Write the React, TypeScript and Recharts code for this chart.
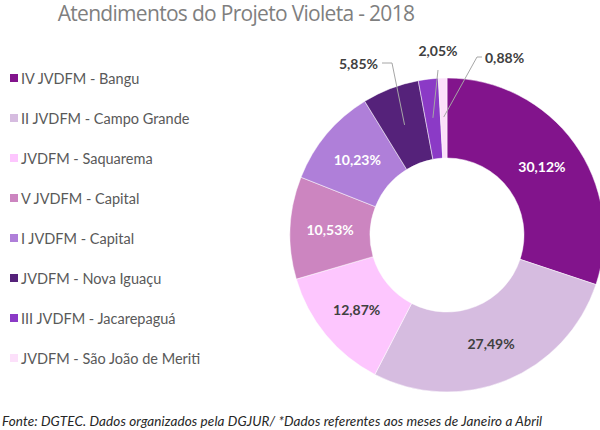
import { Pie, PieChart, Cell } from "recharts";

const UNITS = [
  "IV JVDFM - Bangu",
  "II JVDFM - Campo Grande",
  "JVDFM - Saquarema",
  "V JVDFM - Capital",
  "I JVDFM - Capital",
  "JVDFM - Nova Iguaçu",
  "III JVDFM - Jacarepaguá",
  "JVDFM - São João de Meriti",
];
const SHARES = [30.12, 27.49, 12.87, 10.53, 10.23, 5.85, 2.05, 0.88];
const COLORS = ["#82148C", "#D6BCE0", "#FDC6FE", "#CC85C0", "#AF7FD9", "#55227A", "#8B3AC6", "#FCE0FA"];
const LIGHT_TEXT = [true, false, false, true, true, false, false, false];

const TITLE = "Atendimentos do Projeto Violeta - 2018";
const SOURCE = "Fonte: DGTEC. Dados organizados pela DGJUR/ *Dados referentes aos meses de Janeiro a Abril";

const rows = UNITS.map((name, i) => ({ name, value: SHARES[i] }));

// leader-line layout for the small slices, relative to the pie centre
const CALLOUTS: Record<number, { ex: number; ey: number; hx: number; tx: number; ty: number; anchor: string }> = {
  5: { ex: -55, ey: -172, hx: -65, tx: -69, ty: -172, anchor: "end" },
  6: { ex: -9, ey: -165, hx: -9, tx: -9, ty: -185, anchor: "middle" },
  7: { ex: 30, ey: -178, hx: 35, tx: 38, ty: -178, anchor: "start" },
};

const RAD = Math.PI / 180;
const fmt = (v: number) => v.toFixed(2).replace(".", ",") + "%";

function renderLabel(props: any) {
  const { cx, cy, midAngle, innerRadius, outerRadius, index, value } = props;
  const c = CALLOUTS[index];
  if (c) {
    const ax = cx + 118 * Math.cos(-midAngle * RAD);
    const ay = cy + 118 * Math.sin(-midAngle * RAD);
    return (
      <g>
        <polyline
          points={`${ax},${ay} ${cx + c.ex},${cy + c.ey} ${cx + c.hx},${cy + c.ey}`}
          fill="none"
          stroke="#a6a6a6"
          strokeWidth={1}
        />
        <text
          x={cx + c.tx}
          y={cy + c.ty}
          textAnchor={c.anchor}
          dominantBaseline="central"
          fontFamily="Lato"
          fontWeight={700}
          fontSize={14}
          fill="#404040"
        >
          {fmt(value)}
        </text>
      </g>
    );
  }
  const r = (innerRadius + outerRadius) / 2;
  const x = cx + r * Math.cos(-midAngle * RAD);
  const y = cy + r * Math.sin(-midAngle * RAD);
  return (
    <text
      x={x}
      y={y}
      textAnchor="middle"
      dominantBaseline="central"
      fontFamily="Lato"
      fontWeight={700}
      fontSize={14}
      fill={LIGHT_TEXT[index] ? "#ffffff" : "#404040"}
    >
      {fmt(value)}
    </text>
  );
}

export default function App() {
  return (
    <div style={{ position: "absolute", left: 0, top: 0, width: 600, height: 430, background: "#fff" }}>
      <PieChart width={600} height={430}>
        <Pie
          data={rows}
          dataKey="value"
          nameKey="name"
          cx={442}
          cy={230}
          innerRadius={77}
          outerRadius={157}
          startAngle={90}
          endAngle={-270}
          stroke="#ffffff"
          strokeWidth={0.5}
          label={renderLabel}
          labelLine={false}
          isAnimationActive={false}
        >
          {rows.map((r, i) => (
            <Cell key={r.name} fill={COLORS[i]} />
          ))}
        </Pie>
      </PieChart>
      <div
        style={{
          position: "absolute",
          left: 0,
          width: 472,
          top: 1,
          textAlign: "center",
          fontFamily: "Open Sans",
          fontSize: 21,
          letterSpacing: -0.7,
          color: "#7f7f7f",
          lineHeight: "24px",
          whiteSpace: "nowrap",
        }}
      >
        {TITLE}
      </div>
      <div style={{ position: "absolute", left: 10, top: 58 }}>
        {UNITS.map((u, i) => (
          <div key={u} style={{ height: 40, display: "flex", alignItems: "center" }}>
            <span style={{ width: 8, height: 8, background: COLORS[i], marginRight: 3, display: "inline-block" }} />
            <span style={{ fontFamily: "Lato", fontSize: 14.5, color: "#595959" }}>{u}</span>
          </div>
        ))}
      </div>
      <div
        style={{
          position: "absolute",
          left: 2,
          top: 413,
          fontFamily: "Lato",
          fontStyle: "italic",
          fontSize: 13.5,
          letterSpacing: 0.1,
          color: "#262626",
          whiteSpace: "nowrap",
        }}
      >
        {SOURCE}
      </div>
    </div>
  );
}
